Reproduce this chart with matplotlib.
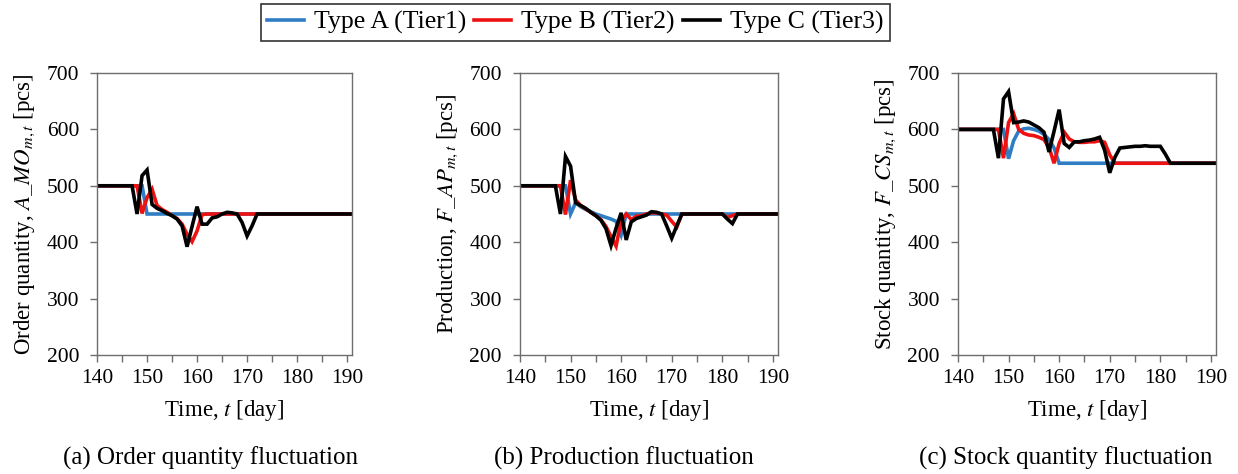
import matplotlib
matplotlib.use("Agg")
import matplotlib.pyplot as plt
from matplotlib.ticker import MultipleLocator
from matplotlib.lines import Line2D

plt.rcParams["font.family"] = ["Liberation Serif", "DejaVu Serif"]
plt.rcParams["mathtext.fontset"] = "stix"

days = list(range(140, 192))

# (a) order quantity
order_a = [500]*10 + [450]*42
order_b = ([500]*9 + [451, 479, 494, 465, 458, 453, 447, 442, 432, 414, 401, 420, 449]
           + [450]*30)
order_c = ([500]*8 + [450, 518, 528, 467, 460, 456, 451, 447, 441, 429, 392, 428, 463,
                      432, 432, 443, 445, 450, 453, 452, 450, 435, 411, 429, 450]
           + [450]*19)

# (b) production
prod_a = ([500]*10 + [450, 470, 463, 458, 454, 450, 447, 444, 441, 437, 413]
          + [450]*31)
prod_b = ([500]*9 + [449, 510, 475, 465, 459, 453, 447, 440, 428, 410, 393, 438, 450,
                     440, 446, 447, 450, 452, 452, 450, 448, 437, 427, 450]
          + [450]*8 + [444, 447] + [450]*9)
prod_c = ([500]*8 + [450, 552, 535, 470, 465, 460, 453, 447, 439, 424, 394, 425, 452,
                     404, 436, 442, 445, 448, 454, 453, 450, 429, 407, 429, 450]
          + [450]*8 + [441, 433] + [450]*9)

# (c) stock quantity
stock_a = ([600]*10 + [548, 580, 597, 601, 602, 600, 597, 591, 582, 567]
           + [540]*32)
stock_b = ([600]*9 + [549, 612, 628, 600, 593, 590, 589, 586, 582, 568, 540, 575, 595,
                      583, 578, 577, 577, 578, 578, 580, 577, 555]
           + [540]*21)
stock_c = ([600]*8 + [549, 654, 667, 612, 613, 615, 613, 608, 603, 595, 560, 597, 635,
                      575, 568, 578, 578, 580, 581, 583, 586, 563, 523, 550, 567, 568,
                      569, 570, 570, 571, 570, 570, 570, 556]
           + [540]*10)

series_names = ["Type A (Tier1)", "Type B (Tier2)", "Type C (Tier3)"]
colors = ["#2f7dc5", "#ee1111", "#000000"]

panels = [
    (order_a, order_b, order_c, r"Order quantity, $A\_MO_{m,t}$ [pcs]",
     "(a) Order quantity fluctuation", 0.0784, 0.2060, 0.170),
    (prod_a, prod_b, prod_c, r"Production, $F\_AP_{m,t}$ [pcs]",
     "(b) Production fluctuation", 0.4200, 0.2084, 0.504),
    (stock_a, stock_b, stock_c, r"Stock quantity, $F\_CS_{m,t}$ [pcs]",
     "(c) Stock quantity fluctuation", 0.7738, 0.2084, 0.861),
]

fig = plt.figure(figsize=(12.38, 4.74), dpi=100)
spine_color = "#6e6e6e"
tick_fs = 15.5
label_fs = 16.5
cap_fs = 18

for ya, yb, yc, ylabel, caption, left, width, cap_x in panels:
    ax = fig.add_axes([left, 0.2511, width, 0.5949])
    for vals, col in zip((ya, yb, yc), colors):
        ax.plot(days, vals, color=col, lw=2.6, solid_joinstyle="miter")
    ax.set_xlim(140, 191)
    ax.set_ylim(200, 700)
    ax.xaxis.set_major_locator(MultipleLocator(10))
    ax.xaxis.set_minor_locator(MultipleLocator(5))
    ax.yaxis.set_major_locator(MultipleLocator(100))
    ax.tick_params(axis="both", which="both", direction="out", length=5,
                   width=1, color=spine_color, labelsize=tick_fs, pad=5)
    ax.tick_params(axis="y", pad=8)
    for sp in ax.spines.values():
        sp.set_color(spine_color)
        sp.set_linewidth(1)
    ax.set_xlabel(r"Time, $t$ [day]", fontsize=label_fs, labelpad=7)
    ax.set_ylabel(ylabel, fontsize=label_fs, labelpad=7)
    fig.text(cap_x, 0.034, caption, ha="center", va="center", fontsize=cap_fs)

handles = [Line2D([], [], color=c, lw=2.6) for c in colors]
leg = fig.legend(handles, series_names, loc="center", ncol=3,
                 bbox_to_anchor=(0.4645, 0.9525), fontsize=18.5,
                 frameon=True, fancybox=False, edgecolor="black",
                 handlelength=1.44, handletextpad=0.39, columnspacing=0.31,
                 borderpad=0.25, borderaxespad=0)
leg.get_frame().set_linewidth(1.2)

fig.savefig("out.png", dpi=100)
